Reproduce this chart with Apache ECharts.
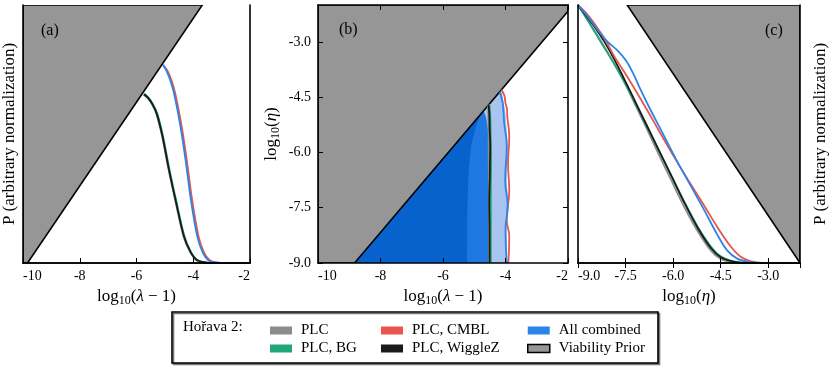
<!DOCTYPE html>
<html>
<head>
<meta charset="utf-8">
<script src="https://cdn.jsdelivr.net/npm/echarts@6/dist/echarts.min.js"></script>
<style>
  html, body { margin: 0; padding: 0; background: #fff; }
  #horava { width: 830px; height: 366px; }
</style>
</head>
<body>
<div id="horava"></div>
<script>
// --- data ---
var FONT = 'Liberation Serif';

// (a) marginal of log10(lambda-1), [x, P]
var aPLC     = [[-5.75,0.652],[-5.60,0.638],[-5.45,0.614],[-5.30,0.578],[-5.10,0.492],[-4.87,0.362],[-4.63,0.240],[-4.34,0.102],[-4.10,0.040],[-3.90,0.012],[-3.60,0.002],[-3.3,0],[-2,0]];
var aBG      = [[-5.72,0.656],[-5.57,0.640],[-5.42,0.616],[-5.27,0.580],[-5.07,0.494],[-4.84,0.364],[-4.60,0.242],[-4.31,0.104],[-4.07,0.041],[-3.87,0.013],[-3.57,0.002],[-3.25,0],[-2,0]];
var aWiggleZ = [[-5.74,0.654],[-5.59,0.640],[-5.44,0.616],[-5.29,0.580],[-5.09,0.494],[-4.86,0.364],[-4.62,0.242],[-4.33,0.104],[-4.09,0.041],[-3.89,0.013],[-3.59,0.002],[-3.3,0],[-2,0]];
var aCMBL    = [[-5.06,0.768],[-4.91,0.745],[-4.78,0.712],[-4.64,0.660],[-4.41,0.530],[-4.23,0.400],[-4.05,0.252],[-3.82,0.106],[-3.62,0.040],[-3.42,0.011],[-3.13,0.001],[-2.85,0],[-2,0]];
var aAll     = [[-5.07,0.767],[-4.94,0.744],[-4.82,0.711],[-4.68,0.659],[-4.45,0.529],[-4.27,0.399],[-4.09,0.250],[-3.86,0.104],[-3.66,0.039],[-3.46,0.010],[-3.17,0.001],[-2.9,0],[-2,0]];
var aPrior   = [[-10,0],[-9.84,0],[-3.68,1],[-10,1]];

// (b) 2D contours, [log10(lambda-1), log10(eta)]
var bPrior   = [[-10,-9],[-8.83,-9],[-2,-2.17],[-2,-2],[-10,-2]];
var bOuter   = [[-8.83,-9],[-3.95,-9],[-3.96,-8.37],[-3.97,-7.83],[-3.92,-7.29],[-3.96,-6.75],[-3.92,-5.85],[-4.00,-4.95],[-4.11,-4.41],[-4.16,-4.33]];
var bMid     = [[-8.83,-9],[-4.54,-9],[-4.53,-7.5],[-4.55,-6.0],[-4.56,-5.4],[-4.62,-5.05],[-4.70,-4.87]];
var bInner   = [[-8.83,-9],[-5.23,-9],[-5.22,-7.5],[-5.18,-6.5],[-5.10,-5.8],[-4.95,-5.3],[-4.80,-4.97]];
var bPLC     = [[-4.56,-4.73],[-4.54,-5.5],[-4.53,-7.0],[-4.53,-9]];
var bBG      = [[-4.52,-4.69],[-4.48,-5.2],[-4.46,-6.2],[-4.47,-7.0],[-4.47,-8.0],[-4.47,-9]];
var bWiggleZ = [[-4.54,-4.71],[-4.51,-5.2],[-4.49,-5.85],[-4.50,-6.5],[-4.52,-7.3],[-4.51,-8.2],[-4.51,-9]];
var bCMBL    = [[-4.13,-4.30],[-4.01,-4.60],[-3.95,-4.86],[-3.88,-5.58],[-3.92,-6.30],[-3.88,-7.02],[-3.96,-7.83],[-3.88,-8.28],[-3.91,-9]];
var bAll     = [[-4.18,-4.35],[-4.06,-4.95],[-3.96,-5.85],[-4.01,-6.75],[-3.93,-7.47],[-4.00,-8.10],[-3.96,-9]];

// (c) marginal of log10(eta), [x, P]
var cPLC     = [[-9,1],[-8.80,0.962],[-8.48,0.900],[-8.17,0.838],[-7.86,0.772],[-7.55,0.705],[-7.24,0.625],[-6.83,0.520],[-6.47,0.425],[-6.05,0.318],[-5.64,0.215],[-5.22,0.122],[-4.81,0.048],[-4.50,0.016],[-4.15,0.004],[-3.7,0],[-2,0]];
var cBG      = [[-9,1],[-8.80,0.961],[-8.48,0.897],[-8.17,0.834],[-7.86,0.772],[-7.55,0.703],[-7.24,0.630],[-6.83,0.530],[-6.47,0.440],[-6.05,0.338],[-5.64,0.236],[-5.22,0.140],[-4.81,0.064],[-4.50,0.026],[-4.10,0.006],[-3.6,0],[-2,0]];
var cWiggleZ = [[-9,1],[-8.80,0.968],[-8.48,0.916],[-8.17,0.858],[-7.86,0.790],[-7.55,0.715],[-7.24,0.637],[-6.83,0.533],[-6.47,0.442],[-6.05,0.336],[-5.64,0.232],[-5.22,0.135],[-4.81,0.058],[-4.50,0.022],[-4.10,0.005],[-3.6,0],[-2,0]];
var cCMBL    = [[-9,1],[-8.69,0.961],[-8.38,0.910],[-8.10,0.857],[-7.86,0.802],[-7.55,0.742],[-7.24,0.680],[-6.83,0.595],[-6.41,0.505],[-6.00,0.417],[-5.53,0.322],[-5.02,0.222],[-4.60,0.138],[-4.19,0.065],[-3.88,0.025],[-3.57,0.007],[-3.2,0],[-2,0]];
var cAll     = [[-9,1],[-8.69,0.955],[-8.38,0.903],[-8.07,0.858],[-7.76,0.824],[-7.50,0.787],[-7.28,0.740],[-7.03,0.673],[-6.72,0.595],[-6.36,0.510],[-5.90,0.400],[-5.43,0.296],[-5.02,0.205],[-4.60,0.108],[-4.29,0.048],[-3.98,0.017],[-3.60,0.004],[-3.2,0],[-2,0]];
var cPrior   = [[-7.45,1],[-2,1],[-2,0]];

var lamTicks = { min: -10, max: -2, interval: 2 };
var etaTicks = { min: -9, max: -2, interval: 1.5 };

var COL = {
    PLC: '#8c8c8c', BG: '#1fa77a', CMBL: '#e8554b', WiggleZ: '#1a1a1a', All: '#2b84ea',
    prior: '#969696', inner: '#0862ce', mid: '#1f78e2', outer: '#a9c4ee'
};

// polygon drawn through the axes of the series
function polygon(name, pts, fill, xi, yi, stroke) {
    return {
        type: 'custom', name: name, xAxisIndex: xi, yAxisIndex: yi,
        data: pts, silent: true, clip: true, z: 1,
        renderItem: function (params, api) {
            if (params.dataIndex !== 0) return;
            var p = pts.map(function (d) { return api.coord(d); });
            return {
                type: 'polygon', shape: { points: p },
                style: { fill: fill, stroke: stroke || null, lineWidth: stroke ? 1.6 : 0 }
            };
        }
    };
}

function curve(name, data, color, xi, yi, mono) {
    return {
        type: 'line', name: name, xAxisIndex: xi, yAxisIndex: yi,
        data: data, showSymbol: false, smooth: mono ? 0.5 : 0.3, smoothMonotone: mono, z: 3,
        lineStyle: { color: color, width: 1.8 }, itemStyle: { color: color }
    };
}

var nameStyle = {
    fontFamily: FONT, fontSize: 17, color: '#000',
    rich: {
        n: { fontFamily: FONT, fontSize: 17, color: '#000' },
        i: { fontFamily: FONT, fontSize: 17, color: '#000', fontStyle: 'italic' },
        s: { fontFamily: FONT, fontSize: 12, color: '#000', padding: [8, 0, 0, 0] }
    }
};
var line = { show: true, lineStyle: { color: '#000', width: 1.6 } };
var inTick = { show: true, inside: true, length: 5, lineStyle: { color: '#000', width: 1 } };

function xBottom(g, t, name) {
    return {
        type: 'value', gridIndex: g, position: 'bottom', min: t.min, max: t.max, interval: t.interval, z: 10,
        axisLine: line, axisTick: inTick, splitLine: { show: false },
        axisLabel: { show: true, margin: 6, showMaxLabel: t.max % t.interval === 0, alignMinLabel: 'left', alignMaxLabel: 'right',
            fontFamily: FONT, fontSize: 14, color: '#000',
            formatter: function (v) { return t.interval % 1 ? v.toFixed(1) : String(v); } },
        name: name, nameLocation: 'middle', nameGap: 13, nameTextStyle: nameStyle
    };
}
function xTop(g, t, ticks) {
    return {
        type: 'value', gridIndex: g, position: 'top', min: t.min, max: t.max, interval: t.interval, z: 10,
        axisLine: line, axisTick: ticks ? inTick : { show: false }, axisLabel: { show: false }, splitLine: { show: false }
    };
}
function yPlain(g, pos, name, gap) {
    return {
        type: 'value', gridIndex: g, position: pos, min: 0, max: 1, z: 10,
        axisLine: line, axisTick: { show: false }, axisLabel: { show: false }, splitLine: { show: false },
        name: name || '', nameLocation: 'middle', nameRotate: 90, nameGap: gap || 0,
        nameTextStyle: { fontFamily: FONT, fontSize: 17, color: '#000' }
    };
}

var legendText = { fontFamily: FONT, fontSize: 15, color: '#000', lineHeight: 15, padding: [0, 0, 0, 4] };

var option = {
    animation: false,
    backgroundColor: '#fff',
    grid: [
        { left: 23, top: 5, width: 227, height: 258 },
        { left: 318, top: 5, width: 250, height: 258 },
        { left: 578, top: 5, width: 225, height: 258 }
    ],
    xAxis: [
        xBottom(0, lamTicks, '{n|log}{s|10}{n|(}{i|λ}{n| − 1)}'),
        xTop(0, lamTicks, false),
        xBottom(1, lamTicks, '{n|log}{s|10}{n|(}{i|λ}{n| − 1)}'),
        xTop(1, lamTicks, true),
        xBottom(2, etaTicks, '{n|log}{s|10}{n|(}{i|η}{n|)}'),
        xTop(2, etaTicks, true)
    ],
    yAxis: [
        yPlain(0, 'left', 'P (arbitrary normalization)', 5),
        yPlain(0, 'right'),
        {
            type: 'value', gridIndex: 1, position: 'left', min: etaTicks.min, max: etaTicks.max, interval: etaTicks.interval, z: 10,
            axisLine: line, axisTick: inTick, splitLine: { show: false },
            axisLabel: { margin: 7, showMaxLabel: false, fontFamily: FONT, fontSize: 14, color: '#000',
                formatter: function (v) { return v.toFixed(1); } },
            name: '{n|log}{s|10}{n|(}{i|η}{n|)}', nameLocation: 'middle', nameRotate: 90, nameGap: 36, nameTextStyle: nameStyle
        },
        {
            type: 'value', gridIndex: 1, position: 'right', min: etaTicks.min, max: etaTicks.max, interval: etaTicks.interval, z: 10,
            axisLine: line, axisTick: inTick, axisLabel: { show: false }, splitLine: { show: false }
        },
        yPlain(2, 'left'),
        yPlain(2, 'right', 'P (arbitrary normalization)', 12)
    ],
    legend: [
        { left: 265, top: 318, orient: 'vertical', itemWidth: 22, itemHeight: 8, itemGap: 3, icon: 'rect', textStyle: legendText,
          data: [{ name: 'PLC', itemStyle: { color: COL.PLC } }, { name: 'PLC, BG', itemStyle: { color: COL.BG } }] },
        { left: 376, top: 318, orient: 'vertical', itemWidth: 22, itemHeight: 8, itemGap: 3, icon: 'rect', textStyle: legendText,
          data: [{ name: 'PLC, CMBL', itemStyle: { color: COL.CMBL } }, { name: 'PLC, WiggleZ', itemStyle: { color: COL.WiggleZ } }] },
        { left: 522, top: 318, orient: 'vertical', itemWidth: 22, itemHeight: 8, itemGap: 3, icon: 'rect', textStyle: legendText,
          data: [{ name: 'All combined', itemStyle: { color: COL.All } },
                 { name: 'Viability Prior', itemStyle: { color: COL.prior, borderColor: '#000', borderWidth: 1.5 } }] }
    ],
    graphic: [
        { type: 'rect', z: -1, shape: { x: 172, y: 312, width: 486, height: 51 },
          style: { fill: '#fff', stroke: '#000', lineWidth: 1.6, shadowColor: '#777', shadowOffsetX: 1.5, shadowOffsetY: 1.5 } },
        { type: 'text', x: 183, y: 327, style: { text: 'Hořava 2:', font: '15px "Liberation Serif"', fill: '#000', verticalAlign: 'middle' } },
        { type: 'text', x: 41, y: 31, z: 20, style: { text: '(a)', font: '16px "Liberation Serif"', fill: '#000', verticalAlign: 'middle' } },
        { type: 'text', x: 339, y: 30, z: 20, style: { text: '(b)', font: '16px "Liberation Serif"', fill: '#000', verticalAlign: 'middle' } },
        { type: 'text', x: 765, y: 31, z: 20, style: { text: '(c)', font: '16px "Liberation Serif"', fill: '#000', verticalAlign: 'middle' } }
    ],
    series: [
        // (a)
        polygon('Viability Prior', aPrior, COL.prior, 0, 0, '#000'),
        curve('PLC', aPLC, COL.PLC, 0, 0),
        curve('PLC, BG', aBG, COL.BG, 0, 0),
        curve('PLC, WiggleZ', aWiggleZ, COL.WiggleZ, 0, 0),
        curve('PLC, CMBL', aCMBL, COL.CMBL, 0, 0),
        curve('All combined', aAll, COL.All, 0, 0),
        // (b)
        polygon('All combined', bOuter, COL.outer, 2, 2),
        polygon('All combined', bMid, COL.mid, 2, 2),
        polygon('All combined', bInner, COL.inner, 2, 2),
        polygon('Viability Prior', bPrior, COL.prior, 2, 2, '#000'),
        curve('PLC', bPLC, COL.PLC, 2, 2, 'y'),
        curve('PLC, BG', bBG, COL.BG, 2, 2, 'y'),
        curve('PLC, WiggleZ', bWiggleZ, COL.WiggleZ, 2, 2, 'y'),
        curve('PLC, CMBL', bCMBL, COL.CMBL, 2, 2, 'y'),
        curve('All combined', bAll, COL.All, 2, 2, 'y'),
        // (c)
        polygon('Viability Prior', cPrior, COL.prior, 4, 4, '#000'),
        curve('PLC', cPLC, COL.PLC, 4, 4),
        curve('PLC, BG', cBG, COL.BG, 4, 4),
        curve('PLC, WiggleZ', cWiggleZ, COL.WiggleZ, 4, 4),
        curve('PLC, CMBL', cCMBL, COL.CMBL, 4, 4),
        curve('All combined', cAll, COL.All, 4, 4)
    ]
};

var chart_horava = echarts.init(document.getElementById('horava'));
chart_horava.setOption(option);
</script>
</body>
</html>
